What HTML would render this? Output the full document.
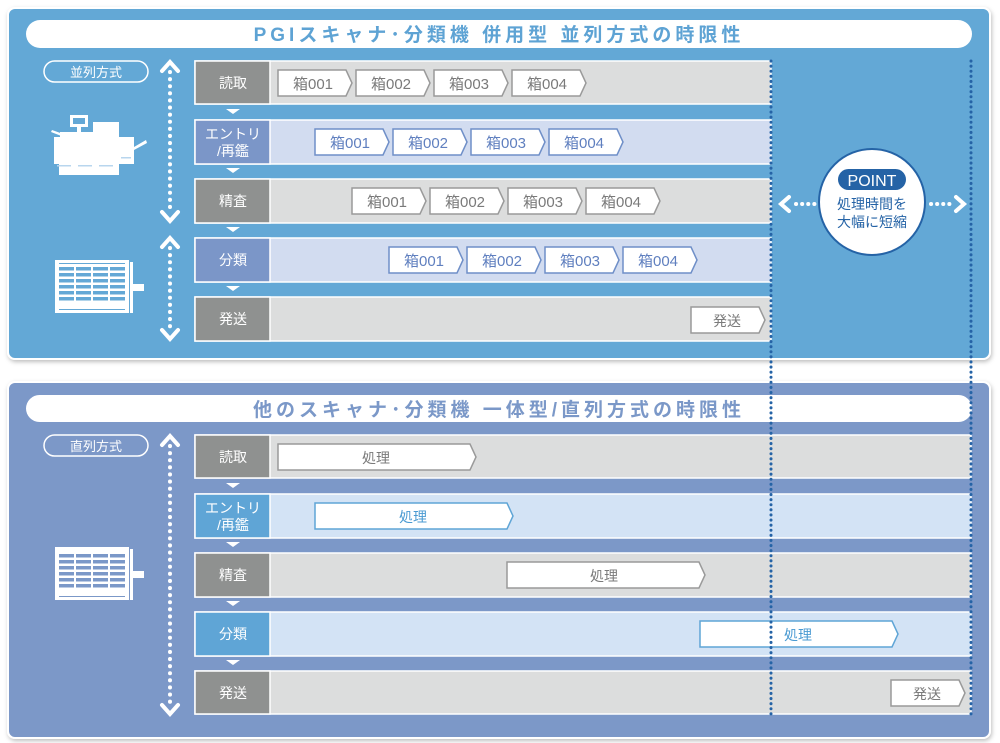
<!DOCTYPE html>
<html><head><meta charset="utf-8"><style>
html,body{margin:0;padding:0;background:#fff;}
svg{display:block;font-family:"Liberation Sans","Noto Sans CJK JP",sans-serif;}
</style></head><body>
<svg width="1000" height="743" viewBox="0 0 1000 743" xmlns="http://www.w3.org/2000/svg">
<defs>
<filter id="sh" x="-5%" y="-5%" width="110%" height="110%"><feDropShadow dx="1" dy="2" stdDeviation="2" flood-color="#000" flood-opacity="0.25"/></filter>
</defs>
<rect x="8" y="8" width="982" height="351" rx="7" fill="#64a8d6" stroke="#fff" stroke-width="2" filter="url(#sh)"/>
<rect x="26" y="20" width="946" height="28" rx="14" fill="#fff"/>
<text x="499" y="41" text-anchor="middle" font-size="19" font-weight="bold" fill="#5ea3d4" letter-spacing="4">PGIスキャナ･分類機 併用型 並列方式の時限性</text>
<rect x="44" y="61" width="104" height="21" rx="10.5" fill="none" stroke="#fff" stroke-width="1.5"/>
<text x="96" y="77" text-anchor="middle" font-size="13" fill="#fff">並列方式</text>

<rect x="8" y="382" width="982" height="356" rx="7" fill="#7b98c8" stroke="#fff" stroke-width="2" filter="url(#sh)"/>
<rect x="26" y="395" width="946" height="27" rx="13.5" fill="#fff"/>
<text x="499" y="416" text-anchor="middle" font-size="19" font-weight="bold" fill="#7b98c8" letter-spacing="4">他のスキャナ･分類機 一体型/直列方式の時限性</text>
<rect x="44" y="435" width="104" height="21" rx="10.5" fill="none" stroke="#fff" stroke-width="1.5"/>
<text x="96" y="451" text-anchor="middle" font-size="13" fill="#fff">直列方式</text>

<g stroke="#fff" stroke-width="4" stroke-linecap="round" fill="none">
<line x1="170" y1="72" x2="170" y2="212" stroke-dasharray="0.1 7"/>
<polyline points="162,71 170,62 178,71"/><polyline points="162,212 170,221 178,212"/>
<line x1="170" y1="248" x2="170" y2="330" stroke-dasharray="0.1 7"/>
<polyline points="162,247 170,238 178,247"/><polyline points="162,330 170,339 178,330"/>
<line x1="170" y1="446" x2="170" y2="705" stroke-dasharray="0.1 7"/>
<polyline points="162,445 170,436 178,445"/><polyline points="162,705 170,714 178,705"/>
</g>

<g fill="#fff">
<rect x="70" y="115" width="18" height="12"/><rect x="73" y="118" width="12" height="6" fill="#64a8d6"/>
<rect x="77" y="127" width="4" height="5"/>
<rect x="60" y="132" width="40" height="5"/>
<rect x="93" y="122" width="26" height="15"/>
<rect x="54" y="137" width="80" height="27"/>
<rect x="59" y="164" width="60" height="11"/>
<polygon points="52,130 66,135 64,137 51,132"/>
<polygon points="134,147 146,140 147,143 134,150"/>
</g>
<g fill="#b8d6ee"><rect x="57" y="165" width="14" height="1.5"/><rect x="78" y="165" width="14" height="1.5"/><rect x="99" y="165" width="14" height="1.5"/><rect x="121" y="157" width="10" height="1.5"/></g>

<g>
<rect x="55" y="260" width="74" height="53" fill="#fff"/>
<rect x="130" y="262" width="3" height="51" fill="#fff"/>
<rect x="133" y="284" width="11" height="7" fill="#fff"/>
<rect x="59" y="263" width="66" height="1" fill="#64a8d6"/>
<rect x="59" y="309" width="66" height="1" fill="#64a8d6"/>
<g fill="#64a8d6">
<rect x="59" y="267" width="15" height="3.5"/><rect x="76" y="267" width="15" height="3.5"/><rect x="93" y="267" width="15" height="3.5"/><rect x="110" y="267" width="15" height="3.5"/>
<rect x="59" y="273" width="15" height="3.5"/><rect x="76" y="273" width="15" height="3.5"/><rect x="93" y="273" width="15" height="3.5"/><rect x="110" y="273" width="15" height="3.5"/>
<rect x="59" y="279" width="15" height="3.5"/><rect x="76" y="279" width="15" height="3.5"/><rect x="93" y="279" width="15" height="3.5"/><rect x="110" y="279" width="15" height="3.5"/>
<rect x="59" y="285" width="15" height="3.5"/><rect x="76" y="285" width="15" height="3.5"/><rect x="93" y="285" width="15" height="3.5"/><rect x="110" y="285" width="15" height="3.5"/>
<rect x="59" y="291" width="15" height="3.5"/><rect x="76" y="291" width="15" height="3.5"/><rect x="93" y="291" width="15" height="3.5"/><rect x="110" y="291" width="15" height="3.5"/>
<rect x="59" y="297" width="15" height="3.5"/><rect x="76" y="297" width="15" height="3.5"/><rect x="93" y="297" width="15" height="3.5"/><rect x="110" y="297" width="15" height="3.5"/>
</g>
</g>
<g transform="translate(0,287)">
<rect x="55" y="260" width="74" height="53" fill="#fff"/>
<rect x="130" y="262" width="3" height="51" fill="#fff"/>
<rect x="133" y="284" width="11" height="7" fill="#fff"/>
<rect x="59" y="309" width="66" height="1" fill="#7b98c8"/>
<g fill="#7b98c8">
<rect x="59" y="267" width="15" height="3.5"/><rect x="76" y="267" width="15" height="3.5"/><rect x="93" y="267" width="15" height="3.5"/><rect x="110" y="267" width="15" height="3.5"/>
<rect x="59" y="273" width="15" height="3.5"/><rect x="76" y="273" width="15" height="3.5"/><rect x="93" y="273" width="15" height="3.5"/><rect x="110" y="273" width="15" height="3.5"/>
<rect x="59" y="279" width="15" height="3.5"/><rect x="76" y="279" width="15" height="3.5"/><rect x="93" y="279" width="15" height="3.5"/><rect x="110" y="279" width="15" height="3.5"/>
<rect x="59" y="285" width="15" height="3.5"/><rect x="76" y="285" width="15" height="3.5"/><rect x="93" y="285" width="15" height="3.5"/><rect x="110" y="285" width="15" height="3.5"/>
<rect x="59" y="291" width="15" height="3.5"/><rect x="76" y="291" width="15" height="3.5"/><rect x="93" y="291" width="15" height="3.5"/><rect x="110" y="291" width="15" height="3.5"/>
<rect x="59" y="297" width="15" height="3.5"/><rect x="76" y="297" width="15" height="3.5"/><rect x="93" y="297" width="15" height="3.5"/><rect x="110" y="297" width="15" height="3.5"/>
</g>
</g>

<g stroke="#fff" stroke-width="1.5">
<rect x="195" y="61" width="576" height="43" fill="#dcdddd"/>
<rect x="195" y="120" width="576" height="44" fill="#d2dcf0"/>
<rect x="195" y="179" width="576" height="44" fill="#dcdddd"/>
<rect x="195" y="238" width="576" height="44" fill="#d2dcf0"/>
<rect x="195" y="297" width="576" height="44" fill="#dcdddd"/>
<rect x="195" y="61" width="75" height="43" fill="#8f9190"/>
<rect x="195" y="120" width="75" height="44" fill="#7b96c8"/>
<rect x="195" y="179" width="75" height="44" fill="#8f9190"/>
<rect x="195" y="238" width="75" height="44" fill="#7b96c8"/>
<rect x="195" y="297" width="75" height="44" fill="#8f9190"/>
<rect x="195" y="435" width="776" height="43" fill="#dcdddd"/>
<rect x="195" y="494" width="776" height="44" fill="#d3e3f5"/>
<rect x="195" y="553" width="776" height="44" fill="#dcdddd"/>
<rect x="195" y="612" width="776" height="44" fill="#d3e3f5"/>
<rect x="195" y="671" width="776" height="43" fill="#dcdddd"/>
<rect x="195" y="435" width="75" height="43" fill="#8f9190"/>
<rect x="195" y="494" width="75" height="44" fill="#5fa5d6"/>
<rect x="195" y="553" width="75" height="44" fill="#8f9190"/>
<rect x="195" y="612" width="75" height="44" fill="#5fa5d6"/>
<rect x="195" y="671" width="75" height="43" fill="#8f9190"/>
</g>
<g fill="#fff" font-size="14" text-anchor="middle">
<text x="233" y="88">読取</text>
<text x="233" y="139">エントリ</text><text x="233" y="156">/再鑑</text>
<text x="233" y="206">精査</text>
<text x="233" y="265">分類</text>
<text x="233" y="324">発送</text>
<text x="233" y="462">読取</text>
<text x="233" y="513">エントリ</text><text x="233" y="530">/再鑑</text>
<text x="233" y="580">精査</text>
<text x="233" y="639">分類</text>
<text x="233" y="698">発送</text>
</g>
<g fill="#fff">
<polygon points="226,109 240,109 233,114"/><polygon points="226,168 240,168 233,173"/><polygon points="226,227 240,227 233,232"/><polygon points="226,286 240,286 233,291"/>
<polygon points="226,483 240,483 233,488"/><polygon points="226,542 240,542 233,547"/><polygon points="226,601 240,601 233,606"/><polygon points="226,660 240,660 233,665"/>
</g>

<g font-size="15" text-anchor="middle">
<g stroke="#9a9a9a" stroke-width="1.5" fill="#fff">
<polygon points="278,70 346,70 352,83 346,96 278,96"/><polygon points="356,70 424,70 430,83 424,96 356,96"/><polygon points="434,70 502,70 508,83 502,96 434,96"/><polygon points="512,70 580,70 586,83 580,96 512,96"/>
<polygon points="352,188 420,188 426,201 420,214 352,214"/><polygon points="430,188 498,188 504,201 498,214 430,214"/><polygon points="508,188 576,188 582,201 576,214 508,214"/><polygon points="586,188 654,188 660,201 654,214 586,214"/>
<polygon points="691,307 759,307 765,320 759,333 691,333"/>
</g>
<g stroke="#6f8fc8" stroke-width="1.5" fill="#fff">
<polygon points="315,129 383,129 389,142 383,155 315,155"/><polygon points="393,129 461,129 467,142 461,155 393,155"/><polygon points="471,129 539,129 545,142 539,155 471,155"/><polygon points="549,129 617,129 623,142 617,155 549,155"/>
<polygon points="389,247 457,247 463,260 457,273 389,273"/><polygon points="467,247 535,247 541,260 535,273 467,273"/><polygon points="545,247 613,247 619,260 613,273 545,273"/><polygon points="623,247 691,247 697,260 691,273 623,273"/>
</g>
<g fill="#7a7a7a">
<text x="313" y="89">箱001</text><text x="391" y="89">箱002</text><text x="469" y="89">箱003</text><text x="547" y="89">箱004</text>
<text x="387" y="207">箱001</text><text x="465" y="207">箱002</text><text x="543" y="207">箱003</text><text x="621" y="207">箱004</text>
<text x="727" y="326" font-size="14">発送</text>
</g>
<g fill="#5f7fbf">
<text x="350" y="148">箱001</text><text x="428" y="148">箱002</text><text x="506" y="148">箱003</text><text x="584" y="148">箱004</text>
<text x="424" y="266">箱001</text><text x="502" y="266">箱002</text><text x="580" y="266">箱003</text><text x="658" y="266">箱004</text>
</g>
<g stroke="#9a9a9a" stroke-width="1.5" fill="#fff">
<polygon points="278,444 470,444 476,457 470,470 278,470"/>
<polygon points="507,562 699,562 705,575 699,588 507,588"/>
<polygon points="891,680 959,680 965,693 959,706 891,706"/>
</g>
<g stroke="#5fa5d6" stroke-width="1.5" fill="#fff">
<polygon points="315,503 507,503 513,516 507,529 315,529"/>
<polygon points="700,621 892,621 898,634 892,647 700,647"/>
</g>
<g font-size="14">
<text x="376" y="463" fill="#7a7a7a">処理</text>
<text x="604" y="581" fill="#7a7a7a">処理</text>
<text x="927" y="699" fill="#7a7a7a">発送</text>
<text x="413" y="522" fill="#4a9ad2">処理</text>
<text x="798" y="640" fill="#4a9ad2">処理</text>
</g>
</g>

<g stroke="#2563a6" stroke-width="3" stroke-linecap="round">
<line x1="771" y1="61" x2="771" y2="716" stroke-dasharray="0.1 5"/>
<line x1="971" y1="61" x2="971" y2="716" stroke-dasharray="0.1 5"/>
</g>

<g stroke="#fff" stroke-width="4" stroke-linecap="round" fill="none">
<line x1="796" y1="204" x2="815" y2="204" stroke-dasharray="0.1 6"/>
<polyline points="789,197 781,204 789,211"/>
<line x1="931" y1="204" x2="950" y2="204" stroke-dasharray="0.1 6"/>
<polyline points="956,197 964,204 956,211"/>
</g>
<circle cx="872" cy="202" r="53" fill="#fff" stroke="#2563a6" stroke-width="2"/>
<rect x="838" y="169" width="68" height="21" rx="10.5" fill="#2563a6"/>
<text x="872" y="186" text-anchor="middle" font-size="16" fill="#fff">POINT</text>
<text x="872" y="209" text-anchor="middle" font-size="14" fill="#2563a6">処理時間を</text>
<text x="872" y="227" text-anchor="middle" font-size="14" fill="#2563a6">大幅に短縮</text>
</svg>
</body></html>
